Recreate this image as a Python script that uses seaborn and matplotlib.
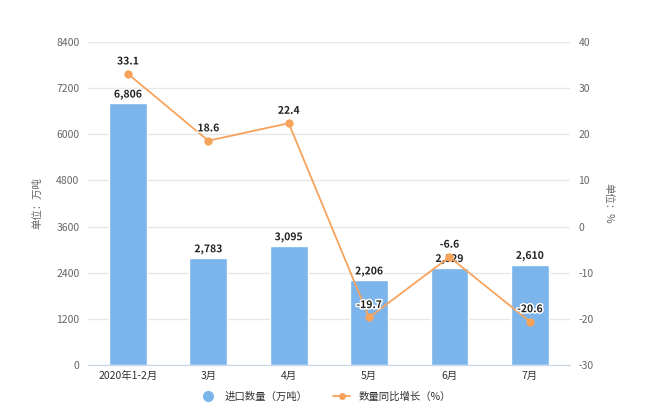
import matplotlib
matplotlib.use("Agg")
import matplotlib.pyplot as plt
import matplotlib.patheffects as pe
from matplotlib.lines import Line2D
import seaborn as sns
import pandas as pd
import numpy as np

categories = ["2020年1-2月", "3月", "4月", "5月", "6月", "7月"]
import_qty = [6806, 2783, 3095, 2206, 2529, 2610]
yoy_growth = [33.1, 18.6, 22.4, -19.7, -6.6, -20.6]
left_ticks = [0, 1200, 2400, 3600, 4800, 6000, 7200, 8400]
right_ticks = [-30, -20, -10, 0, 10, 20, 30, 40]

sns.set_theme(style="white")
plt.rcParams['font.family'] = ['Noto Sans CJK SC', 'DejaVu Sans']
plt.rcParams['axes.unicode_minus'] = False

BAR = "#7cb5ec"
LINE = "#f7a35c"
TXT = "#666666"

df = pd.DataFrame({"cat": categories, "qty": import_qty, "yoy": yoy_growth})

fig = plt.figure(figsize=(6.5, 4.2), dpi=100)
ax = fig.add_axes([0.135, 0.131, 0.742, 0.769])
sns.barplot(data=df, x="cat", y="qty", color=BAR, width=0.47, ax=ax, saturation=1, zorder=2)
ax.set_ylim(0, 8400)
ax.set_yticks(left_ticks)
ax.set_yticklabels([str(t) for t in left_ticks], fontsize=7.5, color=TXT)
ax.set_xlim(-0.5, len(categories) - 0.5)
ax.set_xlabel("")
ax.set_ylabel("单位：万吨", fontsize=7.5, color=TXT, labelpad=10)
ax.grid(axis="y", color="#e6e6e6", linewidth=0.9, zorder=0)
ax.set_axisbelow(True)
for s in ["top", "right", "left"]:
    ax.spines[s].set_visible(False)
ax.spines["bottom"].set_color("#ccd6eb")
ax.spines["bottom"].set_linewidth(0.9)
ax.tick_params(axis="x", labelsize=7.5, labelcolor="#333333", length=0, pad=4)
ax.tick_params(axis="y", length=0, pad=6)

for i, v in enumerate(import_qty):
    ax.text(i, v + 90, f"{v:,}", ha="center", va="bottom", fontsize=7.5,
            fontweight="bold", color="#222222", zorder=5,
            path_effects=[pe.withStroke(linewidth=2, foreground="white")])

ax2 = ax.twinx()
ax2.set_position(ax.get_position())
xs = np.arange(len(categories))
sns.lineplot(x=xs, y=yoy_growth, ax=ax2, color=LINE, linewidth=1.3, marker="o",
             markersize=6, markeredgewidth=0, zorder=4)
ax2.set_ylim(-30, 40)
ax2.set_yticks(right_ticks)
ax2.set_yticklabels([str(t) for t in right_ticks], fontsize=7.5, color=TXT)
ax2.tick_params(axis="y", length=0, pad=6)
ax2.set_ylabel("单位：%", fontsize=7.5, color=TXT, rotation=-90, labelpad=14)
for s in ["top", "right", "left", "bottom"]:
    ax2.spines[s].set_visible(False)
ax2.grid(False)
ax2.set_xlim(-0.5, len(categories) - 0.5)

for i, v in enumerate(yoy_growth):
    ax2.text(i, v + 1.6, f"{v}", ha="center", va="bottom", fontsize=7.5,
             fontweight="bold", color="#222222", zorder=6,
             path_effects=[pe.withStroke(linewidth=2.2, foreground="white")])

handles = [
    Line2D([0], [0], marker="o", color="none", markerfacecolor=BAR, markeredgewidth=0, markersize=8),
    Line2D([0], [0], marker="o", color=LINE, markerfacecolor=LINE, markeredgewidth=0, markersize=5, linewidth=1.3),
]
fig.legend(handles, ["进口数量（万吨）", "数量同比增长（%）"], loc="center",
           bbox_to_anchor=(0.5, 0.055), ncol=2, frameon=False, fontsize=7.5,
           handlelength=1.6, columnspacing=2.5, labelcolor="#333333")

fig.savefig("out.png", dpi=100, facecolor="white")
